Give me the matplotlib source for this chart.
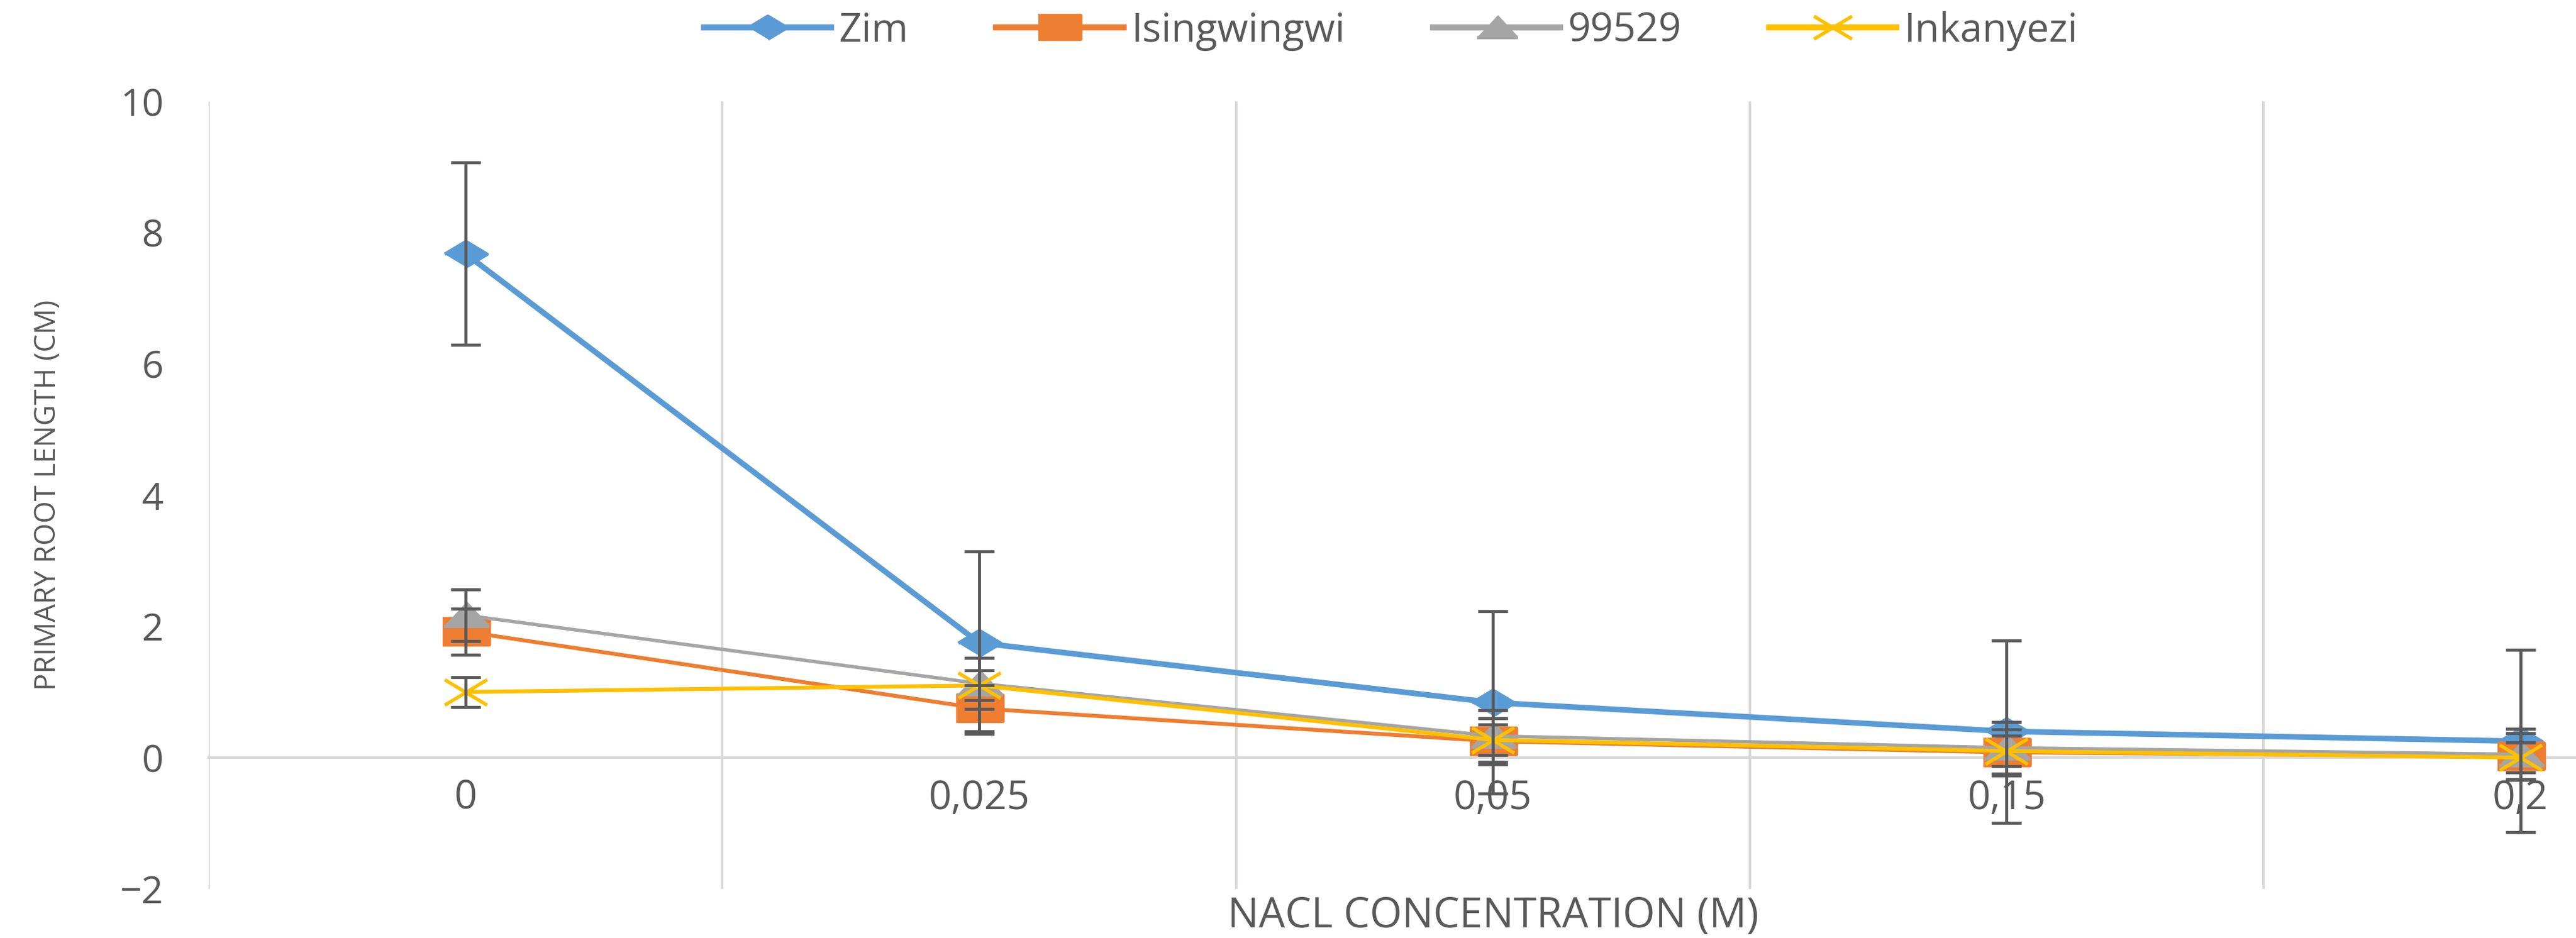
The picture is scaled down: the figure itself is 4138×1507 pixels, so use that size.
import matplotlib
matplotlib.use("Agg")
import matplotlib.pyplot as plt
import numpy as np
from matplotlib.path import Path

plt.rcParams['font.family'] = ['Open Sans', 'DejaVu Sans']

# data
concentrations = ['0', '0,025', '0,05', '0,15', '0,2']
zim = [7.68, 1.75, 0.84, 0.40, 0.25]
isingwingwi = [1.92, 0.75, 0.25, 0.08, 0.02]
line_99529 = [2.17, 1.13, 0.33, 0.15, 0.05]
inkanyezi = [1.00, 1.10, 0.27, 0.10, 0.00]
# Excel style fixed error per series
zim_err = 1.39
isingwingwi_err = 0.35
err_99529 = 0.39
inkanyezi_err = 0.23

# wide markers (the reference is stretched sideways)
diamond = [(-1, 0), (0, 0.6), (1, 0), (0, -0.6)]
square = [(-1, -0.55), (1, -0.55), (1, 0.55), (-1, 0.55)]
triangle = [(-1, -0.5), (1, -0.5), (0, 0.57)]
cross = Path([(-1, -0.6), (1, 0.6), (-1, 0.6), (1, -0.6)],
             [Path.MOVETO, Path.LINETO, Path.MOVETO, Path.LINETO])

series = [
    ('Zim', zim, zim_err, '#5B9BD5', diamond, 49, 6.5),
    ('Isingwingwi', isingwingwi, isingwingwi_err, '#ED7D31', square, 54, 4.5),
    ('99529', line_99529, err_99529, '#A5A5A5', triangle, 51, 4.0),
    ('Inkanyezi', inkanyezi, inkanyezi_err, '#FFC000', cross, 49, 4.5),
]

fig = plt.figure(figsize=(41.38, 15.07), dpi=100)
ax = fig.add_axes([0.081, 0.0524, 0.9971, 0.8394])

x = np.arange(len(concentrations))
for name, vals, err, col, mk, ms, lw in series:
    ax.plot(x, vals, color=col, lw=lw, marker=mk, ms=ms, mfc=col, mec=col,
            mew=4, label=name, zorder=3)
for name, vals, err, col, mk, ms, lw in series:
    ax.errorbar(x, vals, yerr=err, fmt='none', ecolor='#5A5A5A', elinewidth=3.5,
                capsize=17, capthick=3.5, zorder=5)

ax.set_xlim(-0.5, len(concentrations) - 0.5)
ax.set_ylim(-2, 10)
ax.set_yticks(np.arange(-2, 11, 2))
ax.set_xticks(x)
ax.set_xticklabels(concentrations)
ax.set_xticks(np.arange(-0.5, len(concentrations), 1), minor=True)
ax.grid(which='minor', axis='x', color='#D9D9D9', lw=3)
ax.tick_params(which='both', length=0)
ax.tick_params(axis='y', labelsize=44, colors='#595959', pad=52)
ax.tick_params(axis='x', labelsize=46, colors='#595959', pad=24)

for s in ['top', 'right', 'left']:
    ax.spines[s].set_visible(False)
ax.spines['bottom'].set_position(('data', 0))
ax.spines['bottom'].set_color('#D9D9D9')
ax.spines['bottom'].set_linewidth(3)

ax.set_ylabel('PRIMARY ROOT LENGTH (CM)', fontsize=33, color='#595959')
ax.yaxis.set_label_coords(-0.057, 0.5)
ax.set_xlabel('NACL CONCENTRATION (M)', fontsize=48, color='#595959')
ax.xaxis.set_label_coords(0.5, -0.008)

leg = fig.legend(loc='center', bbox_to_anchor=(0.54, 0.967), ncol=4, frameon=False,
                 fontsize=46, labelcolor='#595959', handlelength=3.2,
                 handletextpad=0.2, columnspacing=2.2, markerscale=0.9)
for h in leg.get_lines():
    h.set_linewidth(7)

fig.savefig('out.png', dpi=100)
